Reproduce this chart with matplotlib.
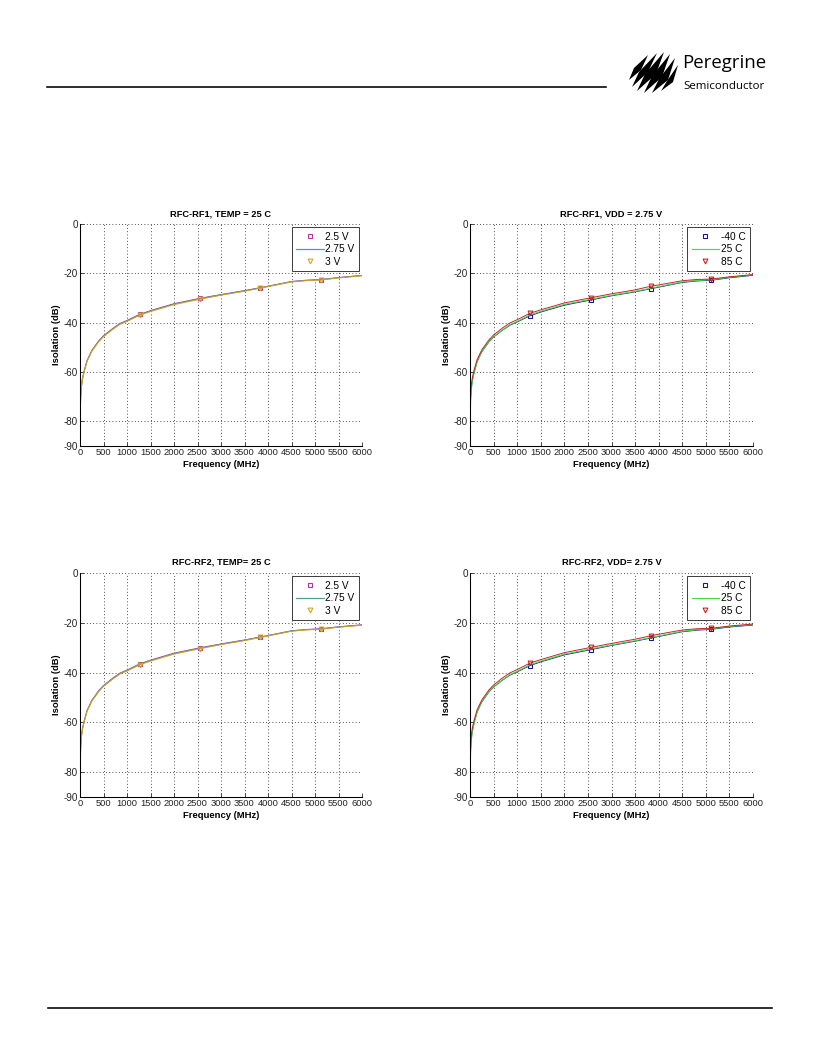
#!/usr/bin/python3

import matplotlib
matplotlib.use("Agg")
import matplotlib.pyplot as plt
from matplotlib.lines import Line2D
from matplotlib.patches import Polygon

plt.rcParams['font.family'] = ['Liberation Sans', 'DejaVu Sans']
plt.rcParams['axes.unicode_minus'] = False

# frequency points (MHz)
freq_mhz = [3, 15, 30, 50, 85, 150, 250, 400, 500, 700, 850, 1000, 1270,
            1500, 2000, 2560, 3000, 3500, 3840, 4000, 4500, 4800, 5120,
            5500, 6000]
mark_idx = [12, 15, 18, 22]   # marker points at 1270 / 2560 / 3840 / 5120

# RFC-RF1, TEMP = 25 C
rf1_v250 = [-77, -69.5, -65.7, -62.8, -59.8, -55.3, -51.3, -47.3, -45.3, -42.3,
            -40.3, -39.1, -36.6, -35.1, -32.3, -30.1, -28.6, -27.0, -25.8,
            -25.2, -23.3, -22.8, -22.5, -21.7, -20.8]
rf1_v275 = [-78, -70, -66, -63, -60, -55.5, -51.5, -47.5, -45.5, -42.5, -40.5,
            -39.3, -36.8, -35.3, -32.5, -30.2, -28.7, -27.1, -25.9, -25.3,
            -23.4, -22.9, -22.6, -21.8, -20.9]
rf1_v300 = [-78.5, -70.3, -66.2, -63.2, -60.2, -55.7, -51.7, -47.7, -45.7,
            -42.7, -40.7, -39.5, -37.0, -35.5, -32.7, -30.5, -28.9, -27.3,
            -26.0, -25.4, -23.5, -23.0, -22.7, -21.9, -21.0]

# RFC-RF1, VDD = 2.75 V
rf1_tm40 = [-77, -70, -66, -63.3, -60.3, -55.8, -51.8, -47.8, -45.8, -42.9,
            -41.0, -39.7, -37.2, -35.7, -32.9, -30.8, -29.1, -27.5, -26.2,
            -25.6, -23.7, -23.1, -22.8, -21.8, -20.8]
rf1_t25 = [-79, -71, -67, -63.8, -60.6, -55.8, -51.7, -47.7, -45.7, -42.8,
           -40.8, -39.5, -36.9, -35.4, -32.6, -30.5, -28.9, -27.3, -26.0,
           -25.4, -23.5, -22.9, -22.6, -21.6, -20.6]
rf1_t85 = [-76, -68, -64.8, -62.2, -59.3, -55.0, -51.0, -47.0, -45.0, -42.0,
           -40.1, -38.8, -36.2, -34.8, -32.0, -29.9, -28.3, -26.7, -25.2,
           -24.7, -23.0, -22.5, -22.3, -21.4, -20.5]

# RFC-RF2, TEMP= 25 C
rf2_v250 = [-76.5, -69.3, -65.5, -62.6, -59.7, -55.2, -51.2, -47.2, -45.2,
            -42.2, -40.2, -39.0, -36.5, -35.0, -32.2, -30.0, -28.5, -26.9,
            -25.7, -25.1, -23.2, -22.7, -22.4, -21.6, -20.8]
rf2_v275 = [-77.5, -69.8, -65.8, -62.9, -59.9, -55.4, -51.4, -47.4, -45.4,
            -42.4, -40.4, -39.2, -36.7, -35.2, -32.4, -30.2, -28.6, -27.0,
            -25.8, -25.2, -23.3, -22.8, -22.5, -21.7, -20.9]
rf2_v300 = [-78, -70.2, -66.1, -63.1, -60.1, -55.6, -51.6, -47.6, -45.6,
            -42.6, -40.6, -39.4, -36.9, -35.4, -32.6, -30.4, -28.8, -27.2,
            -25.9, -25.3, -23.4, -22.9, -22.6, -21.8, -21.0]

# RFC-RF2, VDD= 2.75 V
rf2_tm40 = [-77, -70, -66, -63.3, -60.3, -55.8, -51.8, -47.8, -45.8, -42.9,
            -41.0, -39.7, -37.2, -35.7, -32.9, -30.8, -29.1, -27.4, -26.1,
            -25.5, -23.6, -23.0, -22.6, -21.7, -20.9]
rf2_t25 = [-79, -71, -67, -63.8, -60.6, -55.8, -51.7, -47.7, -45.7, -42.8,
           -40.8, -39.5, -36.9, -35.4, -32.6, -30.5, -28.9, -27.2, -25.9,
           -25.3, -23.4, -22.8, -22.4, -21.5, -20.7]
rf2_t85 = [-76, -68, -64.8, -62.2, -59.3, -55.0, -51.0, -47.0, -45.0, -42.0,
           -40.1, -38.8, -36.2, -34.8, -32.0, -29.9, -28.3, -26.6, -25.2,
           -24.6, -22.9, -22.4, -22.2, -21.3, -20.5]

x_ticks = list(range(0, 6001, 500))
y_ticks = [0, -20, -40, -60, -80, -90]

volt_labels = ['2.5 V', '2.75 V', '3 V']
volt_colors = ['#a838a0', '#4f9a9a', '#d8a020']
temp_labels = ['-40 C', '25 C', '85 C']
temp_colors = ['#141490', '#48d848', '#c42020']

W, H = 816, 1056
fig = plt.figure(figsize=(8.5, 11), dpi=96)


def px_axes(left, top, right, bottom):
    return fig.add_axes([left / W, 1 - bottom / H, (right - left) / W,
                         (bottom - top) / H])


def draw(ax, title, series, labels, colors):
    s0, s1, s2 = series
    ax.plot(freq_mhz, s0, color=colors[0], lw=0.7, marker='s', ms=3.6,
            mfc='none', mew=0.8, markevery=mark_idx)
    ax.plot(freq_mhz, s1, color=colors[1], lw=0.8)
    ax.plot(freq_mhz, s2, color=colors[2], lw=0.7, marker='v', ms=3.6,
            mfc='none', mew=0.8, markevery=mark_idx)
    ax.set_xlim(0, 6000)
    ax.set_ylim(-90, 0)
    ax.set_xticks(x_ticks)
    ax.set_yticks(y_ticks)
    ax.grid(True, color='black', linestyle=(0, (1, 3)), lw=0.6)
    ax.spines['top'].set_visible(False)
    ax.spines['right'].set_visible(False)
    ax.spines['left'].set_linewidth(0.8)
    ax.spines['bottom'].set_linewidth(0.8)
    ax.tick_params(direction='in', length=3, width=0.6, labelsize=7.4,
                   pad=1.5, colors='#222222')
    ax.tick_params(axis='x', labelsize=7.0)
    ax.set_title(title, fontsize=6.9, fontweight='bold', pad=6)
    ax.set_xlabel('Frequency (MHz)', fontsize=7.1, fontweight='bold',
                  labelpad=2)
    ax.set_ylabel('Isolation (dB)', fontsize=7.1, fontweight='bold',
                  labelpad=2)
    handles = [
        Line2D([], [], color=colors[0], ls='none', marker='s', ms=3.6,
               mfc='none', mew=0.8),
        Line2D([], [], color=colors[1], lw=0.9),
        Line2D([], [], color=colors[2], ls='none', marker='v', ms=3.6,
               mfc='none', mew=0.8),
    ]
    leg = ax.legend(handles, labels, loc='upper right', fontsize=7.6,
                    handlelength=2.7, handletextpad=0.15, labelspacing=0.25,
                    borderpad=0.45, borderaxespad=0.3, fancybox=False,
                    framealpha=1, edgecolor='#333333')
    leg.get_frame().set_linewidth(0.7)


ax1 = px_axes(80, 224, 362, 446)
draw(ax1, 'RFC-RF1, TEMP = 25 C', (rf1_v250, rf1_v275, rf1_v300),
     volt_labels, volt_colors)
ax2 = px_axes(470, 224, 753, 446)
draw(ax2, 'RFC-RF1, VDD = 2.75 V', (rf1_tm40, rf1_t25, rf1_t85),
     temp_labels, temp_colors)
ax3 = px_axes(80, 573, 362, 797)
draw(ax3, 'RFC-RF2, TEMP= 25 C', (rf2_v250, rf2_v275, rf2_v300),
     volt_labels, volt_colors)
ax4 = px_axes(470, 573, 753, 797)
draw(ax4, 'RFC-RF2, VDD= 2.75 V', (rf2_tm40, rf2_t25, rf2_t85),
     temp_labels, temp_colors)

# page header / footer rules
fig.add_artist(Line2D([47 / W, 606 / W], [1 - 87 / H, 1 - 87 / H],
                      color='black', lw=1.2))
fig.add_artist(Line2D([48 / W, 772 / W], [1 - 1008 / H, 1 - 1008 / H],
                      color='black', lw=1.2))

# logo: slanted claw stripes + name
stripes = [
    [(629, 80), (634, 68), (648, 55), (641, 70)],
    [(632, 87), (639, 72), (657, 53), (648, 72)],
    [(637, 91), (645, 74), (664, 52), (656, 74)],
    [(644, 93), (652, 76), (670, 54), (662, 77)],
    [(652, 93), (659, 79), (675, 58), (668, 80)],
    [(661, 91), (667, 81), (678, 65), (673, 82)],
]
for pts in stripes:
    fig.add_artist(Polygon([(x / W, 1 - y / H) for x, y in pts],
                           closed=True, color='black', lw=0,
                           transform=fig.transFigure))
fig.text(682 / W, 1 - 68 / H, 'Peregrine', fontsize=14, ha='left',
         va='baseline', family='Open Sans')
fig.text(683 / W, 1 - 89 / H, 'Semiconductor', fontsize=8.6, ha='left',
         va='baseline', family='Open Sans')

plt.savefig('out.png', dpi=96)
